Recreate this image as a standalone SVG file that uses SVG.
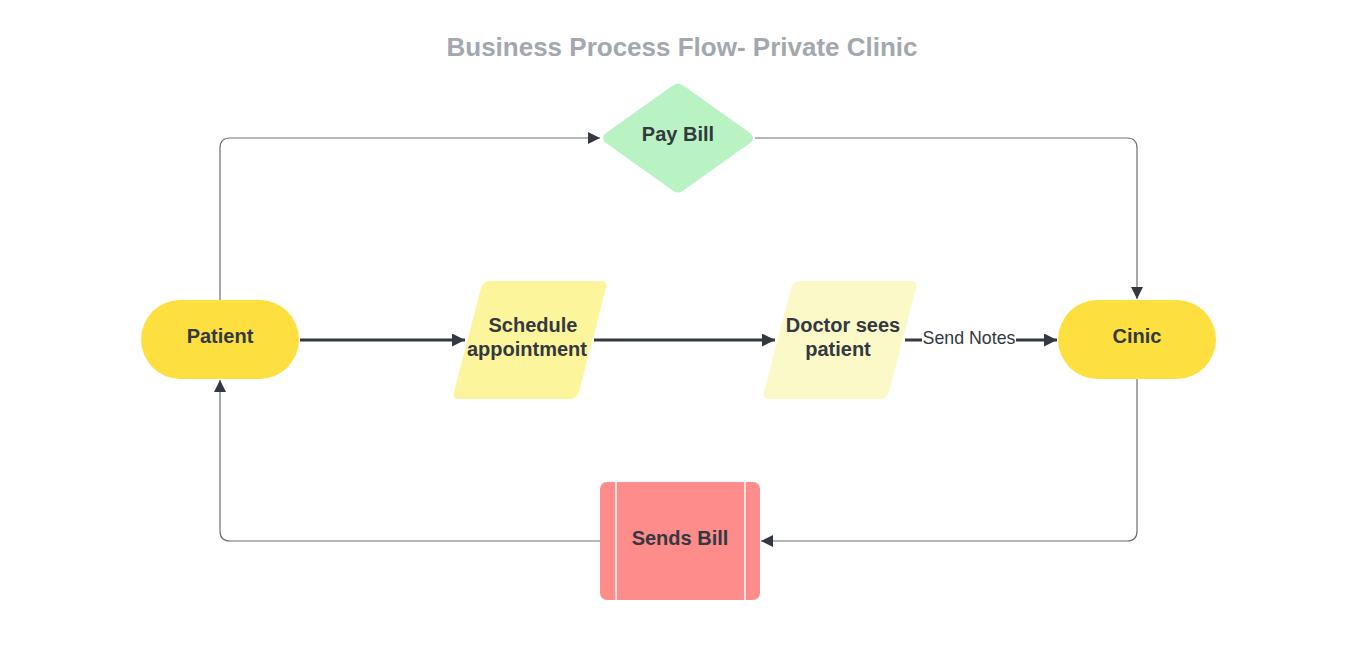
<svg xmlns="http://www.w3.org/2000/svg" width="1351" height="656" viewBox="0 0 1351 656">
<style>
.lbl{font-family:"Liberation Sans",Arial,sans-serif;font-weight:bold;font-size:20px;fill:#333841;text-anchor:middle}
.thin{fill:none;stroke:#6b6e73;stroke-width:1.2}
.thick{fill:none;stroke:#333841;stroke-width:3}
</style>
<defs>
<marker id="ah" viewBox="0 0 10 10" refX="10" refY="5" markerWidth="15" markerHeight="12" markerUnits="userSpaceOnUse" orient="auto"><path d="M0,0 L10,5 L0,10 z" fill="#333841"/></marker>
<marker id="ahb" viewBox="0 0 10 10" refX="10" refY="5" markerWidth="20" markerHeight="13" markerUnits="userSpaceOnUse" orient="auto"><path d="M0,0 L10,5 L0,10 z" fill="#333841"/></marker>
</defs>
<rect width="1351" height="656" fill="#ffffff"/>
<text x="682" y="56" style="font-family:'Liberation Sans',Arial,sans-serif;font-weight:bold;font-size:26px;fill:#a3a7ae;text-anchor:middle">Business Process Flow- Private Clinic</text>
<g id="connectors">
<path class="thin" d="M220,300 V148 Q220,138 230,138 H600" marker-end="url(#ah)"/>
<path class="thin" d="M755,138 H1127 Q1137,138 1137,148 V299" marker-end="url(#ah)"/>
<path class="thin" d="M1137,379 V531 Q1137,541 1127,541 H761" marker-end="url(#ah)"/>
<path class="thin" d="M600,541 H230 Q220,541 220,531 V380" marker-end="url(#ah)"/>
<path class="thick" d="M300,340 H465" marker-end="url(#ahb)"/>
<path class="thick" d="M594,340 H775" marker-end="url(#ahb)"/>
<path class="thick" d="M905,340 H922"/>
<path class="thick" d="M1016,340 H1057" marker-end="url(#ahb)"/>
<text x="969" y="344" style="font-family:'Liberation Sans',Arial,sans-serif;font-size:17.8px;fill:#333841;text-anchor:middle">Send Notes</text>
</g>
<g id="patient">
<rect x="141" y="300" width="158" height="79" rx="39.5" fill="#fde03f"/>
<text class="lbl" x="220" y="343">Patient</text>
</g>
<g id="clinic">
<rect x="1058" y="300" width="158" height="79" rx="39.5" fill="#fde03f"/>
<text class="lbl" x="1137" y="343">Cinic</text>
</g>
<g id="schedule">
<path d="M490,281 H601 Q608,281 606,288 L579,392 Q577,399 570,399 H459 Q452,399 454,392 L481,288 Q483,281 490,281 z" fill="#fdf59c"/>
<text class="lbl" x="533" y="332">Schedule</text>
<text class="lbl" x="527" y="356">appointment</text>
</g>
<g id="doctor">
<path d="M800,281 H911 Q918,281 916,288 L889,392 Q887,399 880,399 H769 Q762,399 764,392 L791,288 Q793,281 800,281 z" fill="#fcf9c8"/>
<text class="lbl" x="843" y="332">Doctor sees</text>
<text class="lbl" x="838" y="356">patient</text>
</g>
<g id="paybill">
<path d="M672,86 Q678,81 684,86 L750,133 Q756,138 750,143 L684,190 Q678,195 672,190 L606,143 Q600,138 606,133 z" fill="#b9f3c3"/>
<text class="lbl" x="678" y="141">Pay Bill</text>
</g>
<g id="sendsbill">
<rect x="600" y="482" width="160" height="118" rx="7" fill="#fe8c8b"/>
<line x1="616" y1="482" x2="616" y2="600" stroke="#ffffff" stroke-width="1.5"/>
<line x1="745" y1="482" x2="745" y2="600" stroke="#ffffff" stroke-width="1.5"/>
<text class="lbl" x="680" y="545">Sends Bill</text>
</g>
</svg>
